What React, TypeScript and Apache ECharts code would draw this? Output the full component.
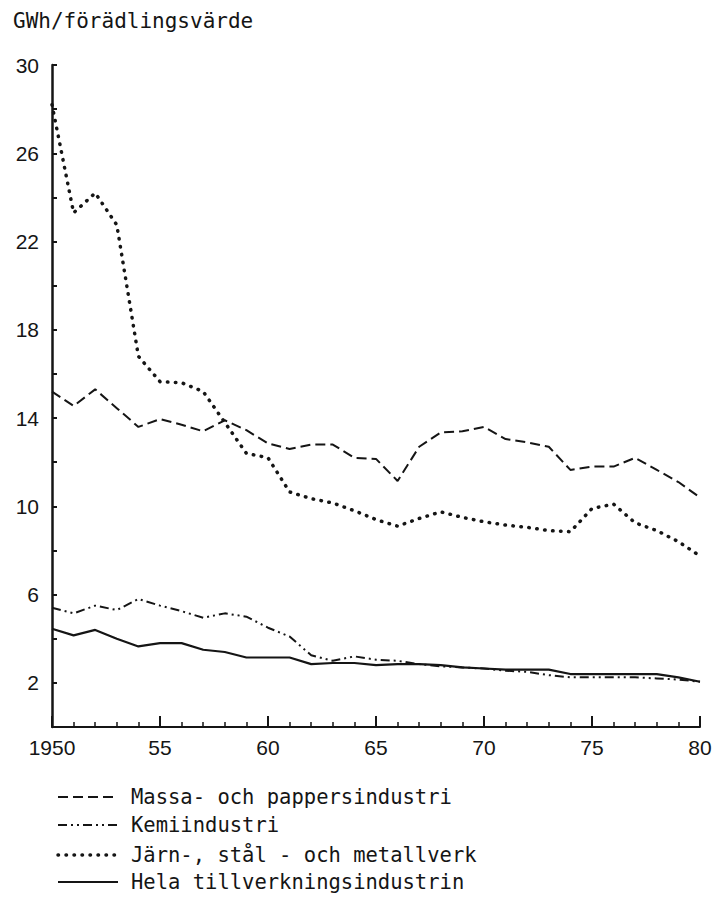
import React, { useEffect, useRef } from "react";
import * as echarts from "echarts";

const years = [1950, 1951, 1952, 1953, 1954, 1955, 1956, 1957, 1958, 1959, 1960, 1961, 1962, 1963, 1964, 1965, 1966, 1967, 1968, 1969, 1970, 1971, 1972, 1973, 1974, 1975, 1976, 1977, 1978, 1979, 1980];

const massa = [15.2, 14.55, 15.3, 14.45, 13.6, 13.95, 13.7, 13.4, 13.9, 13.45, 12.85, 12.6, 12.8, 12.8, 12.2, 12.15, 11.15, 12.7, 13.35, 13.4, 13.6, 13.05, 12.9, 12.7, 11.65, 11.8, 11.8, 12.2, 11.65, 11.1, 10.4];
const kemi = [5.4, 5.15, 5.5, 5.3, 5.8, 5.5, 5.25, 4.95, 5.15, 5.0, 4.5, 4.1, 3.25, 3.0, 3.2, 3.05, 3.0, 2.85, 2.75, 2.7, 2.65, 2.55, 2.5, 2.35, 2.25, 2.25, 2.25, 2.25, 2.2, 2.15, 2.05];
const jarn = [28.2, 23.3, 24.2, 22.75, 16.8, 15.65, 15.6, 15.2, 13.8, 12.4, 12.2, 10.65, 10.35, 10.15, 9.8, 9.4, 9.1, 9.45, 9.75, 9.5, 9.3, 9.15, 9.05, 8.9, 8.85, 9.9, 10.1, 9.25, 8.9, 8.4, 7.75];
const hela = [4.45, 4.15, 4.4, 4.0, 3.65, 3.8, 3.8, 3.5, 3.4, 3.15, 3.15, 3.15, 2.85, 2.9, 2.9, 2.8, 2.85, 2.85, 2.8, 2.7, 2.65, 2.6, 2.6, 2.6, 2.4, 2.4, 2.4, 2.4, 2.4, 2.25, 2.05];

const seriesNames = [
  "Massa- och pappersindustri",
  "Kemiindustri",
  "Järn-, stål - och metallverk",
  "Hela tillverkningsindustrin",
];
const yAxisTitle = "GWh/förädlingsvärde";

const INK = "#151515";
const MONO = '"DejaVu Sans Mono", "Liberation Mono", monospace';
const SANS = '"Liberation Sans", "DejaVu Sans", sans-serif';

const dashed = [10, 5];
const dashDotDot = [9, 4, 2, 4, 2, 4];
const dotted = [0.5, 7.5];

export default function App() {
  const ref = useRef<HTMLDivElement>(null);
  useEffect(() => {
    if (!ref.current) return;
    const chart = echarts.init(ref.current, null, { renderer: "svg" });
    const pairs = (vals: number[]) => years.map((y, i) => [y, vals[i]]);
    const styles = [
      { type: dashed, width: 2, cap: "butt" },
      { type: dashDotDot, width: 2, cap: "butt" },
      { type: dotted, width: 3.5, cap: "round" },
      { type: "solid", width: 2.2, cap: "butt" },
    ];
    const data = [massa, kemi, jarn, hela];
    const legendY = [797, 825, 855, 882];
    const legendGraphics: any[] = [];
    seriesNames.forEach((name, i) => {
      legendGraphics.push({
        type: "line",
        shape: { x1: 58, y1: legendY[i], x2: 118, y2: legendY[i] },
        style: {
          stroke: INK,
          lineWidth: styles[i].width,
          lineDash: styles[i].type === "solid" ? null : styles[i].type,
          lineCap: styles[i].cap,
        },
      });
      legendGraphics.push({
        type: "text",
        x: 131,
        y: legendY[i],
        style: {
          text: name,
          font: `20.5px ${MONO}`,
          fill: INK,
          verticalAlign: "middle",
          align: "left",
        },
      });
    });
    chart.setOption({
      animation: false,
      backgroundColor: "#ffffff",
      grid: { left: 52, top: 65, right: 19, bottom: 179, outerBoundsMode: "none" },
      xAxis: {
        type: "value",
        min: 1950,
        max: 1980,
        interval: 5,
        axisLine: { lineStyle: { color: INK, width: 2 } },
        axisTick: { inside: true, length: 11, lineStyle: { color: INK, width: 2 } },
        minorTick: { show: true, splitNumber: 5, length: 5, lineStyle: { color: INK, width: 1.5 } },
        splitLine: { show: false },
        axisLabel: {
          color: INK,
          fontFamily: SANS,
          fontSize: 21,
          margin: 10,
          formatter: (v: number) => (v === 1950 ? "1950" : String(v % 100)),
        },
      },
      yAxis: {
        type: "value",
        min: 0,
        max: 30,
        interval: 2,
        axisLine: { show: true, lineStyle: { color: INK, width: 2.5 } },
        axisTick: { show: true, inside: true, length: 5, lineStyle: { color: INK, width: 2 } },
        splitLine: { show: false },
        axisLabel: {
          color: INK,
          fontFamily: SANS,
          fontSize: 21,
          margin: 13,
          formatter: (v: number) => (v % 4 === 2 ? String(v) : ""),
        },
      },
      series: seriesNames.map((name, i) => ({
        name,
        type: "line",
        data: pairs(data[i]),
        symbol: "none",
        lineStyle: { color: INK, width: styles[i].width, type: styles[i].type, cap: styles[i].cap },
        z: 3 + i,
      })),
      graphic: [
        {
          type: "text",
          x: 13,
          y: 21,
          style: { text: yAxisTitle, font: `21px ${MONO}`, fill: INK, verticalAlign: "middle" },
        },
        ...legendGraphics,
      ],
    });
    return () => chart.dispose();
  }, []);
  return (
    <div
      ref={ref}
      style={{ position: "fixed", left: 0, top: 0, width: 719, height: 906, background: "#fff" }}
    />
  );
}
